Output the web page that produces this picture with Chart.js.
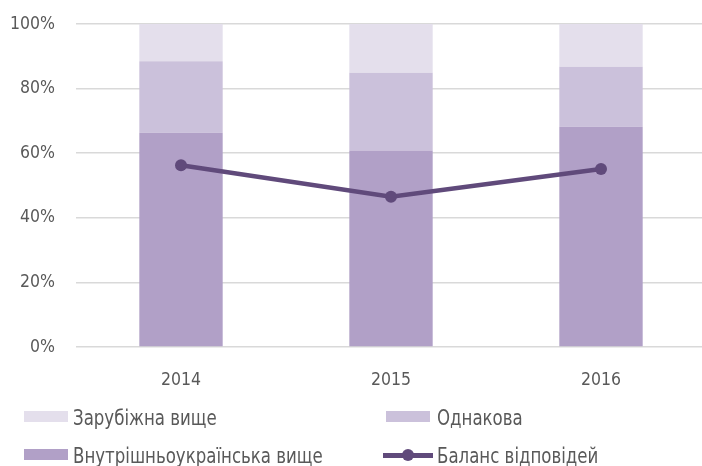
<!DOCTYPE html>
<html><head><meta charset="utf-8">
<script src="https://cdn.jsdelivr.net/npm/chart.js@4/dist/chart.umd.min.js"></script>
<style>
html,body{margin:0;padding:0;background:#fff;overflow:hidden;width:702px;height:466px;}
#wrap{position:absolute;left:0;top:0;width:712px;height:466px;}
#legend{position:absolute;left:0;top:0;width:702px;height:466px;pointer-events:none;
 font-family:"DejaVu Sans Condensed","Liberation Sans Narrow",sans-serif;font-size:20.5px;color:#595959;}
.item{position:absolute;white-space:nowrap;line-height:24px;transform-origin:0 50%;transform:scaleX(0.9);}
.sw{position:absolute;}
</style></head>
<body>
<div id="wrap"><canvas id="c" width="712" height="466"></canvas></div>
<div id="legend"></div>
<script>
const categories = ["2014", "2015", "2016"];
const domesticHigher = [66.3, 60.8, 68.2];   // Внутрішньоукраїнська вище
const same = [22.2, 24.1, 18.6];             // Однакова
const foreignHigher = [11.5, 15.1, 13.2];    // Зарубіжна вище
const balance = [56.3, 46.5, 55.1];          // Баланс відповідей
const yTicks = [0, 20, 40, 60, 80, 100];

const FONT = '"DejaVu Sans Condensed","Liberation Sans Narrow",sans-serif';
const C_FOREIGN = '#E4DFEC', C_SAME = '#CBC1DB', C_DOM = '#B1A0C7', C_LINE = '#604A7B';

const barCommon = {type:'bar', stack:'bars', order:1, barPercentage:0.397, categoryPercentage:1, borderWidth:0};
const chart = new Chart(document.getElementById('c'), {
  type:'bar',
  data:{
    labels:categories,
    datasets:[
      Object.assign({label:'Внутрішньоукраїнська вище', data:domesticHigher, backgroundColor:C_DOM}, barCommon),
      Object.assign({label:'Однакова', data:same, backgroundColor:C_SAME}, barCommon),
      Object.assign({label:'Зарубіжна вище', data:foreignHigher, backgroundColor:C_FOREIGN}, barCommon),
      {type:'line', label:'Баланс відповідей', data:balance, stack:'line', order:0,
       borderColor:C_LINE, backgroundColor:C_LINE, borderWidth:4.5, pointRadius:6,
       pointBackgroundColor:C_LINE, pointBorderWidth:0, tension:0, fill:false}
    ]
  },
  options:{
    responsive:false, animation:false, devicePixelRatio:1,
    layout:{padding:{top:24, bottom:74, left:0, right:1}},
    plugins:{legend:{display:false}, tooltip:{enabled:false}},
    scales:{
      x:{stacked:true, offset:true, grid:{display:false, drawTicks:false}, border:{display:false},
         ticks:{color:'#595959', font:{family:FONT, size:17.5}, padding:23},
         afterFit(s){ s.height = 45; s.paddingLeft = 0; s.paddingRight = 0; }},
      y:{stacked:true, min:0, max:100,
         afterBuildTicks(s){ s.ticks = yTicks.map(v=>({value:v})); },
         grid:{color:'#D9D9D9', lineWidth:1.5, drawTicks:false}, border:{display:false},
         ticks:{color:'#595959', font:{family:FONT, size:17.5}, padding:21, callback:v=>v+'%'},
         afterFit(s){ s.width = 76; s.paddingTop = 0; s.paddingBottom = 0; }}
    }
  }
});

// HTML legend built from the chart's datasets, in the reference's 2x2 layout
const lg = document.getElementById('legend');
const ds = chart.data.datasets;
const slots = [
  {i:2, sx:24, tx:73, cy:417},
  {i:1, sx:386, tx:437, cy:417},
  {i:0, sx:24, tx:73, cy:455},
  {i:3, sx:383, tx:437, cy:455}
];
slots.forEach(s=>{
  const d = ds[s.i];
  if (d.type === 'line') {
    const ln = document.createElement('div'); ln.className='sw';
    Object.assign(ln.style,{left:s.sx+'px', top:(s.cy-2)+'px', width:'50px', height:'4.5px', background:d.borderColor});
    lg.appendChild(ln);
    const dot = document.createElement('div'); dot.className='sw';
    Object.assign(dot.style,{left:(s.sx+25-6)+'px', top:(s.cy-6+0.25)+'px', width:'12px', height:'12px', borderRadius:'50%', background:d.borderColor});
    lg.appendChild(dot);
  } else {
    const sw = document.createElement('div'); sw.className='sw';
    Object.assign(sw.style,{left:s.sx+'px', top:(s.cy-6)+'px', width:'44px', height:'11px', background:d.backgroundColor});
    lg.appendChild(sw);
  }
  const t = document.createElement('div'); t.className='item';
  t.textContent = d.label;
  Object.assign(t.style,{left:s.tx+'px', top:(s.cy-11)+'px'});
  lg.appendChild(t);
});
</script>
</body></html>
